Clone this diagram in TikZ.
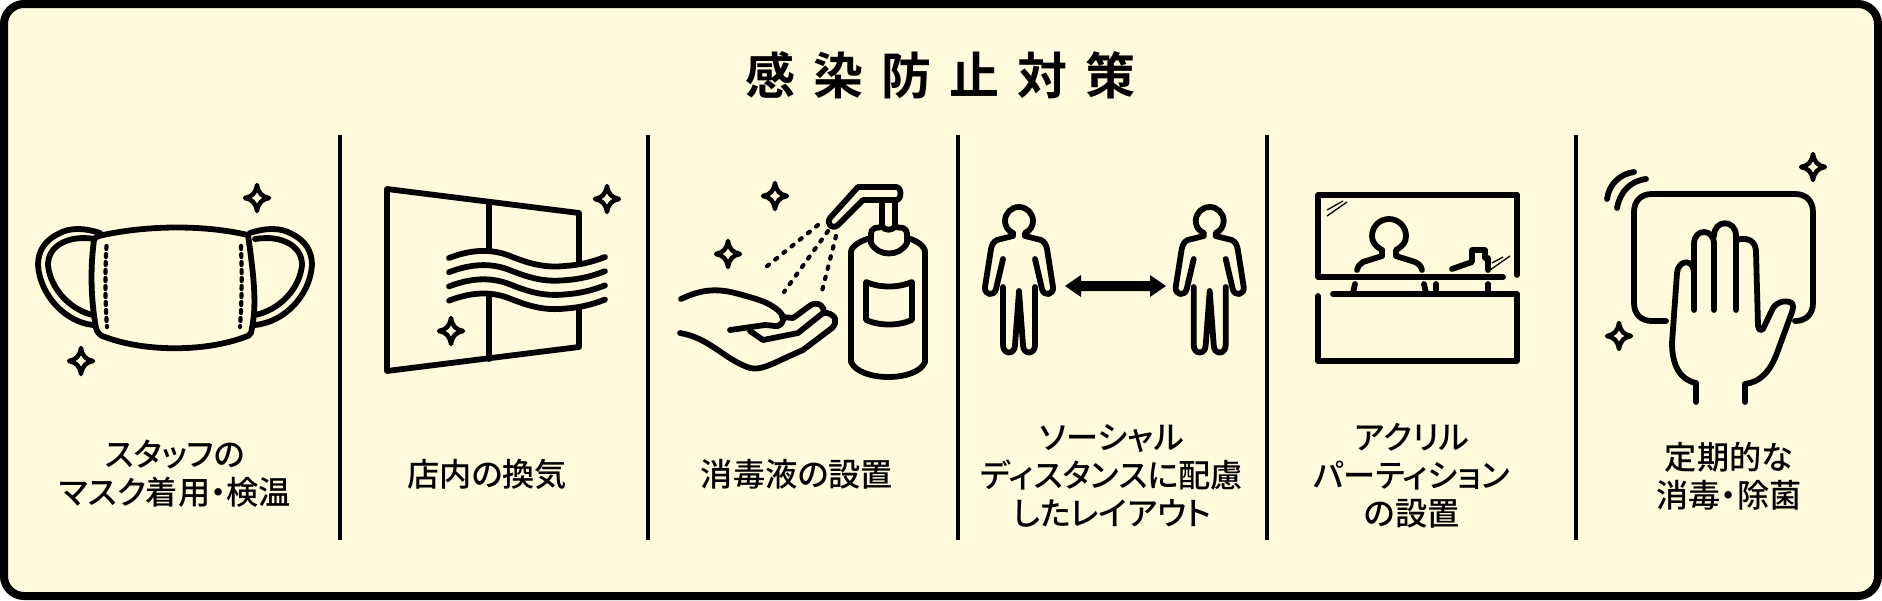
\documentclass[tikz,border=0pt]{standalone}
\usepackage{fontspec}
\setmainfont{Noto Sans CJK JP Medium}[RawFeature=+palt]
\newfontfamily\titlefont{Noto Sans CJK JP Bold}
\definecolor{cream}{HTML}{FFFADC}
\tikzset{
  ink/.style={draw=black,line width=5.8pt,line cap=round,line join=round},
  thin ink/.style={draw=black,line width=1.3pt},
  dots/.style={draw=black,line width=4.2pt,line cap=round,dash pattern=on 2.5pt off 8pt},
  stitch/.style={draw=black,line width=4.2pt,line cap=round,dash pattern=on 3pt off 5pt},
  divider/.style={draw=black,line width=3.6pt},
  lab/.style={align=center,inner sep=0pt,font=\fontsize{32.2}{38}\selectfont,text=black},
  spark/.pic={\draw[draw=black,line width=4.5pt,line join=round,line cap=round]
     (0,-13) .. controls (1.2,-5) and (5,-1.2) .. (12,0)
     .. controls (5,1.2) and (1.2,5) .. (0,13)
     .. controls (-1.2,5) and (-5,1.2) .. (-12,0)
     .. controls (-5,-1.2) and (-1.2,-5) .. cycle;}
}
\begin{document}
\begin{tikzpicture}[x=1pt,y=-1pt]
\useasboundingbox (0,0) rectangle (1882,600);
\draw[draw=black,fill=cream,line width=8pt,rounded corners=20pt] (4,4) rectangle (1878,596);
% Title
\node[inner sep=0pt,font=\titlefont\fontsize{50}{52}\selectfont] (title) at (940,75) {感\hspace{18pt}染\hspace{18pt}防\hspace{18pt}止\hspace{18pt}対\hspace{18pt}策};
% Dividers
\foreach \x/\n in {340/d1,648/d2,958/d3,1267/d4,1576/d5}{
  \coordinate (\n a) at (\x,135); \coordinate (\n b) at (\x,540);
  \draw[divider] (\n a) -- (\n b);}
% Labels
\node[lab] (l1) at (175,474) {スタッフの\\マスク着用・検温};
\node[lab] (l2) at (487,474) {店内の換気};
\node[lab] (l3) at (797,474) {消毒液の設置};
\node[lab] (l4) at (1112,476) {ソーシャル\\ディスタンスに配慮\\したレイアウト};
\node[lab] (l5) at (1412,476) {アクリル\\パーティション\\の設置};
\node[lab] (l6) at (1729,476) {定期的な\\消毒・除菌};
% Mask
\draw[ink] (103,235) .. controls (150,225) and (205,225) .. (248,235)
  .. controls (256,290) and (256,310) .. (251,333) .. controls (250,336) and (247,336) .. (245,337)
  .. controls (205,352) and (145,352) .. (105,337) .. controls (100,336) and (97,332) .. (96,328)
  .. controls (91,300) and (90,270) .. (94,240) .. controls (95,237) and (98,236) .. (103,235);
\draw[ink] (100,233) .. controls (85,228) and (70,227) .. (58,234) .. controls (44,241) and (38,252) .. (38,265)
  .. controls (40,295) and (65,322) .. (93,325);
\draw[ink] (95,239) .. controls (82,237) and (70,238) .. (60,244) .. controls (52,249) and (48,256) .. (48,265)
  .. controls (50,288) and (70,310) .. (93,315);
\draw[ink] (250,233) .. controls (265,228) and (280,227) .. (292,234) .. controls (306,241) and (312,252) .. (312,265)
  .. controls (310,295) and (285,322) .. (255,325);
\draw[ink] (255,239) .. controls (268,237) and (280,238) .. (290,244) .. controls (298,249) and (302,256) .. (302,265)
  .. controls (300,288) and (280,310) .. (255,315);
\draw[stitch] (106.5,246) .. controls (105,270) and (105,300) .. (107,327);
\draw[stitch] (241,246) .. controls (242,270) and (242,300) .. (240,327);
\pic at (257,198) {spark}; \pic at (81,361) {spark};
% Window
\draw[ink] (579,262) -- (579,213) -- (387,189) -- (387,371) -- (579,347) -- (579,308);
\draw[ink] (489,202) -- (489,250); \draw[ink] (489,295) -- (489,359);
\foreach \d in {0,14.2,28.4,42.6}{
  \draw[ink,yshift=-\d pt] (449,258) .. controls (470,250) and (490,248) .. (510,256) .. controls (530,264) and (545,268) .. (565,266) .. controls (580,265) and (592,262) .. (605,257);
}
\pic at (607,199) {spark}; \pic at (451,331) {spark};
% Sanitizer
\pic at (775,196) {spark}; \pic at (728,254) {spark};
\draw[ink] (830,218) -- (858,187) -- (896,187) .. controls (902,187) and (902,200) .. (896,200) -- (863,200) -- (838,225) .. controls (832,230) and (826,224) .. (830,218) -- cycle;
\draw[ink] (882,202) -- (882,226) .. controls (884,231) and (893,231) .. (895,226) -- (895,202);
\draw[ink] (882,227) -- (875,228) .. controls (872,229) and (871,231) .. (871,234) -- (871,243) .. controls (878,257) and (900,257) .. (907,243) -- (907,234) .. controls (907,231) and (906,229) .. (903,228) -- (895,227);
\draw[ink] (871,238) .. controls (862,240) and (851,246) .. (851,252) -- (851,362) .. controls (860,382) and (917,382) .. (925,362) -- (925,252) .. controls (925,246) and (916,240) .. (907,238);
\draw[ink] (866,282) .. controls (880,288) and (898,288) .. (912,282) -- (912,320) .. controls (898,326) and (880,326) .. (866,320) -- cycle;
\draw[dots] (818,225) -- (766,267);
\draw[dots] (828,231) -- (784,292);
\draw[dots] (836,236) -- (821,295);
\draw[ink] (681,299) .. controls (700,290) and (715,288) .. (735,293) .. controls (750,297) and (765,301) .. (772,306) .. controls (782,312) and (786,318) .. (781,324) .. controls (778,328) and (772,325) .. (765,325) -- (730,330);
\draw[ink] (680,333) .. controls (710,338) and (725,360) .. (750,368) .. controls (762,371) and (775,362) .. (803,350) -- (832,328) .. controls (838,322) and (836,315) .. (827,313) -- (823,313);
\draw[ink] (782,317) -- (793,318) -- (811,305) .. controls (818,301) and (826,307) .. (823,313) -- (798,333) -- (763,340) -- (750,331);
% People
\foreach \cx/\sc in {1019/p,1209.7/q}{
\begin{scope}[shift={(\cx,221)}]
  \draw[ink] (-6,12) .. controls (-11,10) and (-14,5) .. (-14,0) arc[start angle=180,end angle=360,radius=14] .. controls (14,5) and (11,10) .. (6,12) -- (6,15) -- (22,19) .. controls (26,21) and (27,24) .. (28,28) -- (34,66) .. controls (35,74) and (25,76) .. (23,68) -- (16,38);
  \draw[ink] (-6,12) -- (-6,15) -- (-22,19) .. controls (-26,21) and (-27,24) .. (-28,28) -- (-34,66) .. controls (-35,74) and (-25,76) .. (-23,68) -- (-16,38);
  \draw[ink] (-16,66) -- (-16,124) .. controls (-16,134) and (-4,134) .. (-4,124) -- (0,70) -- (4,124) .. controls (4,134) and (16,134) .. (16,124) -- (16,66);
\end{scope}}
\fill[black] (1065,286) -- (1081,275) -- (1081,281) -- (1150,281) -- (1150,275) -- (1166,286) -- (1150,297) -- (1150,291) -- (1081,291) -- (1081,297) -- cycle;
% Partition
\draw[ink] (1517,275) -- (1517,195) -- (1318,195) -- (1318,277) -- (1503,277);
\draw[ink] (1333,294) -- (1517,294) -- (1517,361) -- (1318,361) -- (1318,296);
\draw[ink] (1382,250) .. controls (1375,246) and (1372,242) .. (1372,236) arc[start angle=180,end angle=360,radius=17] .. controls (1406,242) and (1403,246) .. (1396,250) -- (1396,256) -- (1415,262) .. controls (1419,264) and (1421,266) .. (1422,270);
\draw[ink] (1382,250) -- (1382,256) -- (1363,262) .. controls (1360,264) and (1358,266) .. (1357,270);
\draw[ink] (1355,284) -- (1353,293); \draw[ink] (1424,284) -- (1426,293); \draw[ink] (1436,284) -- (1436,293); \draw[ink] (1488,284) -- (1488,293);
\draw[ink] (1452,269) -- (1472,262) -- (1472,250) -- (1485,250) -- (1485,258) -- (1488,258) -- (1488,270);
\draw[thin ink] (1327,210) -- (1343,201); \draw[thin ink] (1327,216) -- (1347,202);
\draw[thin ink] (1492,263) -- (1503,257); \draw[thin ink] (1490,270) -- (1510,256);
% Wiping hand
\draw[ink] (1666,321) -- (1652,321) .. controls (1641,321) and (1634,314) .. (1634,303) -- (1634,212) .. controls (1634,201) and (1641,194) .. (1652,194) -- (1795,194) .. controls (1806,194) and (1813,201) .. (1813,212) -- (1813,303) .. controls (1813,314) and (1806,321) .. (1795,321);
\draw[ink] (1607,199) .. controls (1609,184) and (1620,174) .. (1634,172);
\draw[ink] (1617,208) .. controls (1620,192) and (1630,181) .. (1646,179);
\pic at (1813,167) {spark}; \pic at (1619,336) {spark};
\draw[ink] (1696,402) -- (1696,383) .. controls (1680,380) and (1672,365) .. (1672,343) -- (1677,273) .. controls (1678,260) and (1693,258) .. (1694,272);
\draw[ink] (1694,310) -- (1694,244) .. controls (1694,228) and (1714,228) .. (1714,244) -- (1714,310);
\draw[ink] (1714,236) .. controls (1714,219) and (1736,219) .. (1736,236) -- (1736,310);
\draw[ink] (1736,240) .. controls (1750,236) and (1756,243) .. (1756,252) -- (1758,326) .. controls (1759,331) and (1762,331) .. (1763,329) -- (1772,310) .. controls (1775,303) and (1784,299) .. (1792,303) .. controls (1794,305) and (1793,308) .. (1792,312) -- (1777,353) .. controls (1770,372) and (1760,382) .. (1745,384) -- (1745,402);
\end{tikzpicture}
\end{document}
